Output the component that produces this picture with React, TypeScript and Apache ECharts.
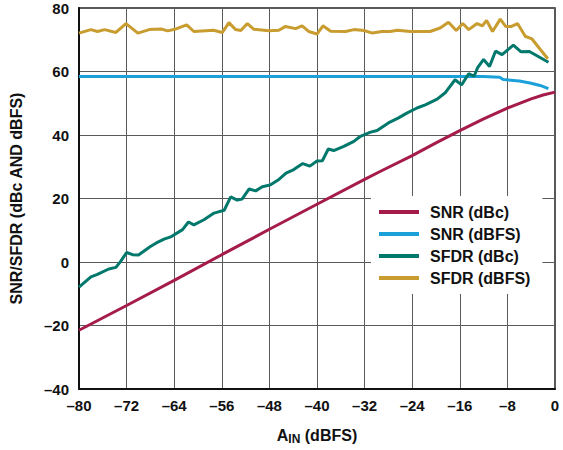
import React, { useEffect, useRef } from "react";
import * as echarts from "echarts";

const xTicks = { min: -80, max: 0, interval: 8 };
const yTicks = { min: -40, max: 80, interval: 20 };

const seriesNames = ["SNR (dBc)", "SNR (dBFS)", "SFDR (dBc)", "SFDR (dBFS)"];
const seriesColors = ["#A51C4B", "#1BA0DA", "#00786C", "#C89C2F"];

const snrDbc: [number, number][] = [
  [-80, -21.5], [-72, -13.7], [-64, -5.8], [-56, 2.3], [-48, 10.3], [-40, 18.2],
  [-32, 26.0], [-29.4, 28.5], [-24, 33.5], [-20, 37.5], [-16, 41.4], [-12, 45.1],
  [-8, 48.5], [-4, 51.4], [-2, 52.6], [0, 53.5],
];

const snrDbfs: [number, number][] = [
  [-80, 58.4], [-64, 58.4], [-48, 58.4], [-32, 58.4], [-16, 58.4], [-12, 58.4],
  [-9.3, 58.2], [-8.7, 57.5], [-6, 57.0], [-4.2, 56.4], [-2.5, 55.6], [-1.1, 54.6],
];

const sfdrDbc: [number, number][] = [
  [-80, -7.9], [-78, -4.7], [-77, -4.0], [-75, -2.2], [-73.8, -1.7], [-73, 0.2],
  [-72, 3.0], [-71, 2.3], [-70, 2.2], [-68, 4.9], [-67, 6.0], [-65.7, 7.2],
  [-64.6, 7.9], [-62.6, 10.2], [-61.6, 12.6], [-60.7, 11.7], [-59, 13.3], [-57.3, 15.4],
  [-55.6, 16.3], [-54.5, 20.5], [-53.4, 19.5], [-52.6, 19.8], [-51.4, 23.0], [-50.3, 22.4],
  [-49.2, 23.7], [-47.8, 24.3], [-46.4, 26.0], [-45.2, 28.0], [-43.9, 29.1], [-42.4, 31.0],
  [-41.2, 30.2], [-40, 31.8], [-39.1, 31.9], [-38.1, 35.6], [-37.2, 35.1], [-35.5, 36.4],
  [-33.8, 38.0], [-32.7, 39.6], [-31, 40.9], [-29.9, 41.4], [-28, 43.8], [-26.3, 45.4],
  [-24.9, 46.9], [-23.2, 48.5], [-21.8, 49.5], [-19.8, 51.3], [-18.4, 53.4], [-16.8, 57.4],
  [-15.7, 55.8], [-14.5, 59.3], [-13.6, 58.5], [-13.0, 61.2], [-12.0, 63.8], [-11.0, 61.6],
  [-10.0, 66.4], [-8.9, 65.3], [-7.0, 68.3], [-5.7, 66.2], [-4.3, 66.3], [-1.1, 62.9],
];

const sfdrDbfs: [number, number][] = [
  [-80, 72.1], [-78, 73.2], [-76.9, 72.6], [-75.7, 73.2], [-73.8, 72.3], [-72.1, 75.1],
  [-70.1, 72.1], [-68.2, 73.2], [-66.2, 73.4], [-65.1, 72.8], [-63.7, 73.4], [-61.9, 74.7],
  [-60.7, 72.6], [-57.4, 73.0], [-55.9, 72.3], [-54.8, 75.4], [-53.7, 73.2], [-52.8, 72.9],
  [-51.7, 75.1], [-50.6, 73.3], [-48.1, 72.8], [-46.4, 73.0], [-45.3, 74.2], [-43.6, 73.5],
  [-42.5, 74.4], [-41.4, 72.6], [-40.0, 71.8], [-39.0, 74.4], [-37.7, 72.7], [-35.2, 72.6],
  [-33.8, 73.2], [-32.1, 72.9], [-30.7, 72.1], [-29.1, 72.6], [-27.7, 72.6], [-26.5, 73.0],
  [-24.3, 72.6], [-21, 72.6], [-19.3, 73.7], [-17.9, 75.5], [-16.6, 72.9], [-15.5, 75.1],
  [-14.5, 73.2], [-13.1, 75.1], [-12.2, 74.4], [-11.5, 76.1], [-10.5, 72.6], [-9.2, 76.5],
  [-8.3, 74.2], [-7.3, 74.2], [-6.3, 75.1], [-5.0, 71.1], [-3.9, 70.3], [-2.5, 67.0],
  [-1.2, 64.0],
];

const seriesData = [snrDbc, snrDbfs, sfdrDbc, sfdrDbfs];

const FONT = "'Liberation Sans', Arial, Helvetica, sans-serif";
const fmt = (v: number) => String(v).replace("-", "\u2013");

export default function App() {
  const ref = useRef<HTMLDivElement>(null);
  useEffect(() => {
    if (!ref.current) return;
    const chart = echarts.init(ref.current, undefined, { renderer: "svg" });
    chart.setOption({
      animation: false,
      backgroundColor: "#ffffff",
      textStyle: { fontFamily: FONT },
      grid: {
        left: 78,
        right: 8,
        top: 8,
        bottom: 57,
        show: true,
        borderColor: "#222222",
        borderWidth: 1.5,
        containLabel: false,
      },
      legend: {
        show: true,
        data: seriesNames,
        orient: "vertical",
        left: 371,
        top: 196,
        backgroundColor: "#ffffff",
        padding: [7, 12, 7, 8],
        itemGap: 4,
        itemWidth: 40,
        itemHeight: 4,
        icon: "rect",
        textStyle: {
          fontFamily: FONT,
          fontWeight: "bold",
          fontSize: 16,
          color: "#111111",
          lineHeight: 18,
          padding: [0, 0, 0, 6],
        },
      },
      xAxis: {
        type: "value",
        min: xTicks.min,
        max: xTicks.max,
        interval: xTicks.interval,
        name: "{a|A}{s|IN}{a| (dBFS)}",
        nameLocation: "middle",
        nameGap: 38,
        nameTextStyle: {
          rich: {
            a: { fontFamily: FONT, fontWeight: "bold", fontSize: 16, color: "#111", verticalAlign: "top", lineHeight: 18 },
            s: { fontFamily: FONT, fontWeight: "bold", fontSize: 12, color: "#111", verticalAlign: "top", lineHeight: 14, padding: [6, 0, 0, 0] },
          },
        },
        axisLine: { show: true, onZero: false, lineStyle: { color: "#111111", width: 2 } },
        axisTick: { show: false },
        splitLine: { show: true, lineStyle: { color: "#5a5a5a", width: 1 } },
        axisLabel: {
          margin: 9,
          fontFamily: FONT,
          fontWeight: "bold",
          fontSize: 15,
          color: "#111111",
          formatter: fmt,
        },
      },
      yAxis: {
        type: "value",
        min: yTicks.min,
        max: yTicks.max,
        interval: yTicks.interval,
        name: "SNR/SFDR (dBc AND dBFS)",
        nameLocation: "middle",
        nameGap: 55,
        nameTextStyle: {
          fontFamily: FONT,
          fontWeight: "bold",
          fontSize: 16,
          color: "#111111",
        },
        axisLine: { show: true, onZero: false, lineStyle: { color: "#111111", width: 2 } },
        axisTick: { show: false },
        splitLine: { show: true, lineStyle: { color: "#5a5a5a", width: 1 } },
        axisLabel: {
          margin: 10,
          fontFamily: FONT,
          fontWeight: "bold",
          fontSize: 15,
          color: "#111111",
          formatter: fmt,
        },
      },
      series: seriesNames.map((name, i) => ({
        name,
        type: "line",
        data: seriesData[i],
        showSymbol: false,
        symbol: "none",
        smooth: false,
        color: seriesColors[i],
        lineStyle: { color: seriesColors[i], width: 3 },
        z: 2 + i,
      })),
    });
    return () => chart.dispose();
  }, []);
  return (
    <div
      ref={ref}
      style={{ position: "absolute", left: 0, top: 0, width: 563, height: 450 }}
    />
  );
}
